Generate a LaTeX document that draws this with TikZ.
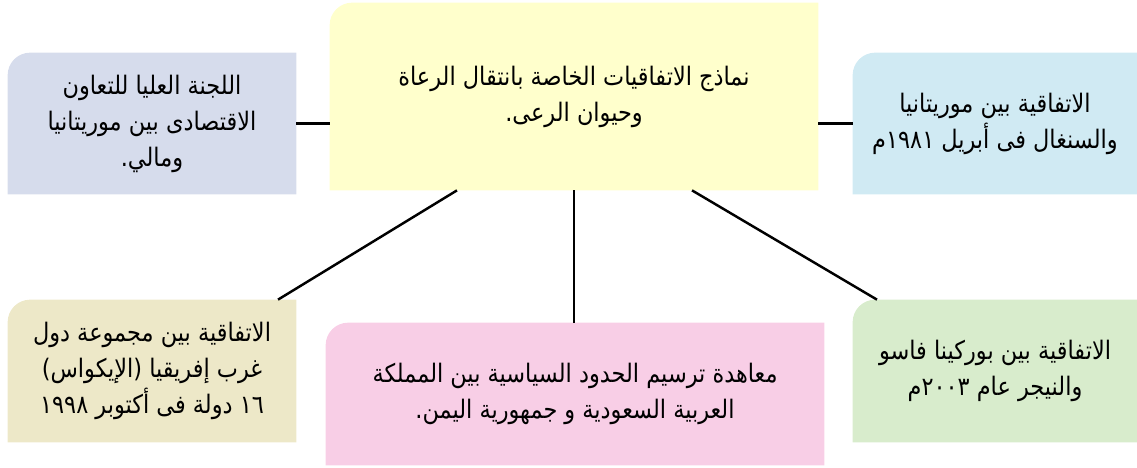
\documentclass[tikz,border=0pt]{standalone}
\usepackage{fontspec}
\newfontfamily\arabicfont[Script=Arabic,FakeStretch=0.88]{DejaVu Sans}
\TeXXeTstate=1
\usetikzlibrary{positioning,calc,backgrounds}
\definecolor{topicyellow}{RGB}{255,255,204}
\definecolor{councilblue}{RGB}{214,220,236}
\definecolor{senegalblue}{RGB}{208,234,243}
\definecolor{ecowastan}{RGB}{237,232,200}
\definecolor{treatypink}{RGB}{248,206,230}
\definecolor{nigergreen}{RGB}{216,236,204}

\newcommand{\artext}[1]{{\arabicfont\beginR #1\endR}}

\tikzset{
    agreement/.style={minimum width=#1, minimum height=2.84cm, inner sep=0pt,
        align=center, font=\fontsize{14.5}{20.5}\selectfont},
    link/.style={line width=1.4pt}
}

\begin{document}
\begin{tikzpicture}
    \useasboundingbox (0,0) rectangle (22.74,-9.34);

    % Central topic
    \node[agreement=9.76cm, minimum height=3.74cm] (topic) at (11.48,-1.93)
        {\artext{نماذج الاتفاقيات الخاصة بانتقال الرعاة}\\ \artext{وحيوان الرعى.}};

    % Top row
    \node[agreement=5.76cm, minimum height=2.82cm] (council) at (3.04,-2.47)
        {\artext{اللجنة العليا للتعاون}\\ \artext{الاقتصادى بين موريتانيا}\\ \artext{ومالي.}};
    \node[agreement=5.68cm, minimum height=2.82cm] (senegal) at (19.90,-2.47)
        {\artext{الاتفاقية بين موريتانيا}\\ \artext{والسنغال فى أبريل ١٩٨١م}};

    % Bottom row
    \node[agreement=5.76cm] (ecowas) at (3.04,-7.42)
        {\artext{الاتفاقية بين مجموعة دول}\\ \artext{غرب إفريقيا (الإيكواس)}\\ \artext{١٦ دولة فى أكتوبر ١٩٩٨}};
    \node[agreement=9.96cm] (yemen) at (11.50,-7.88)
        {\artext{معاهدة ترسيم الحدود السياسية بين المملكة}\\ \artext{العربية السعودية و جمهورية اليمن.}};
    \node[agreement=5.68cm] (niger) at (19.90,-7.42)
        {\artext{الاتفاقية بين بوركينا فاسو}\\ \artext{والنيجر عام ٢٠٠٣م}};

    % Box fills, top left corner rounded
    \begin{scope}[on background layer]
        \foreach \n/\c in {topic/topicyellow, council/councilblue, senegal/senegalblue,
                           ecowas/ecowastan, yemen/treatypink, niger/nigergreen} {
            \fill[\c] (\n.south west) -- ([yshift=-0.45cm]\n.north west)
                arc[start angle=180, end angle=90, radius=0.45cm]
                -- (\n.north east) -- (\n.south east) -- cycle;
        }
    \end{scope}

    % Connectors
    \draw[link] (council.east) -- (council.east -| topic.west);
    \draw[link] (senegal.west) -- (senegal.west -| topic.east);
    \draw[link] ([xshift=-2.34cm]topic.south) -- ([xshift=2.52cm]ecowas.north);
    \draw[link] (topic.south) -- (topic.south |- yemen.north);
    \draw[link] ([xshift=2.36cm]topic.south) -- ([xshift=-2.36cm]niger.north);
\end{tikzpicture}
\end{document}
